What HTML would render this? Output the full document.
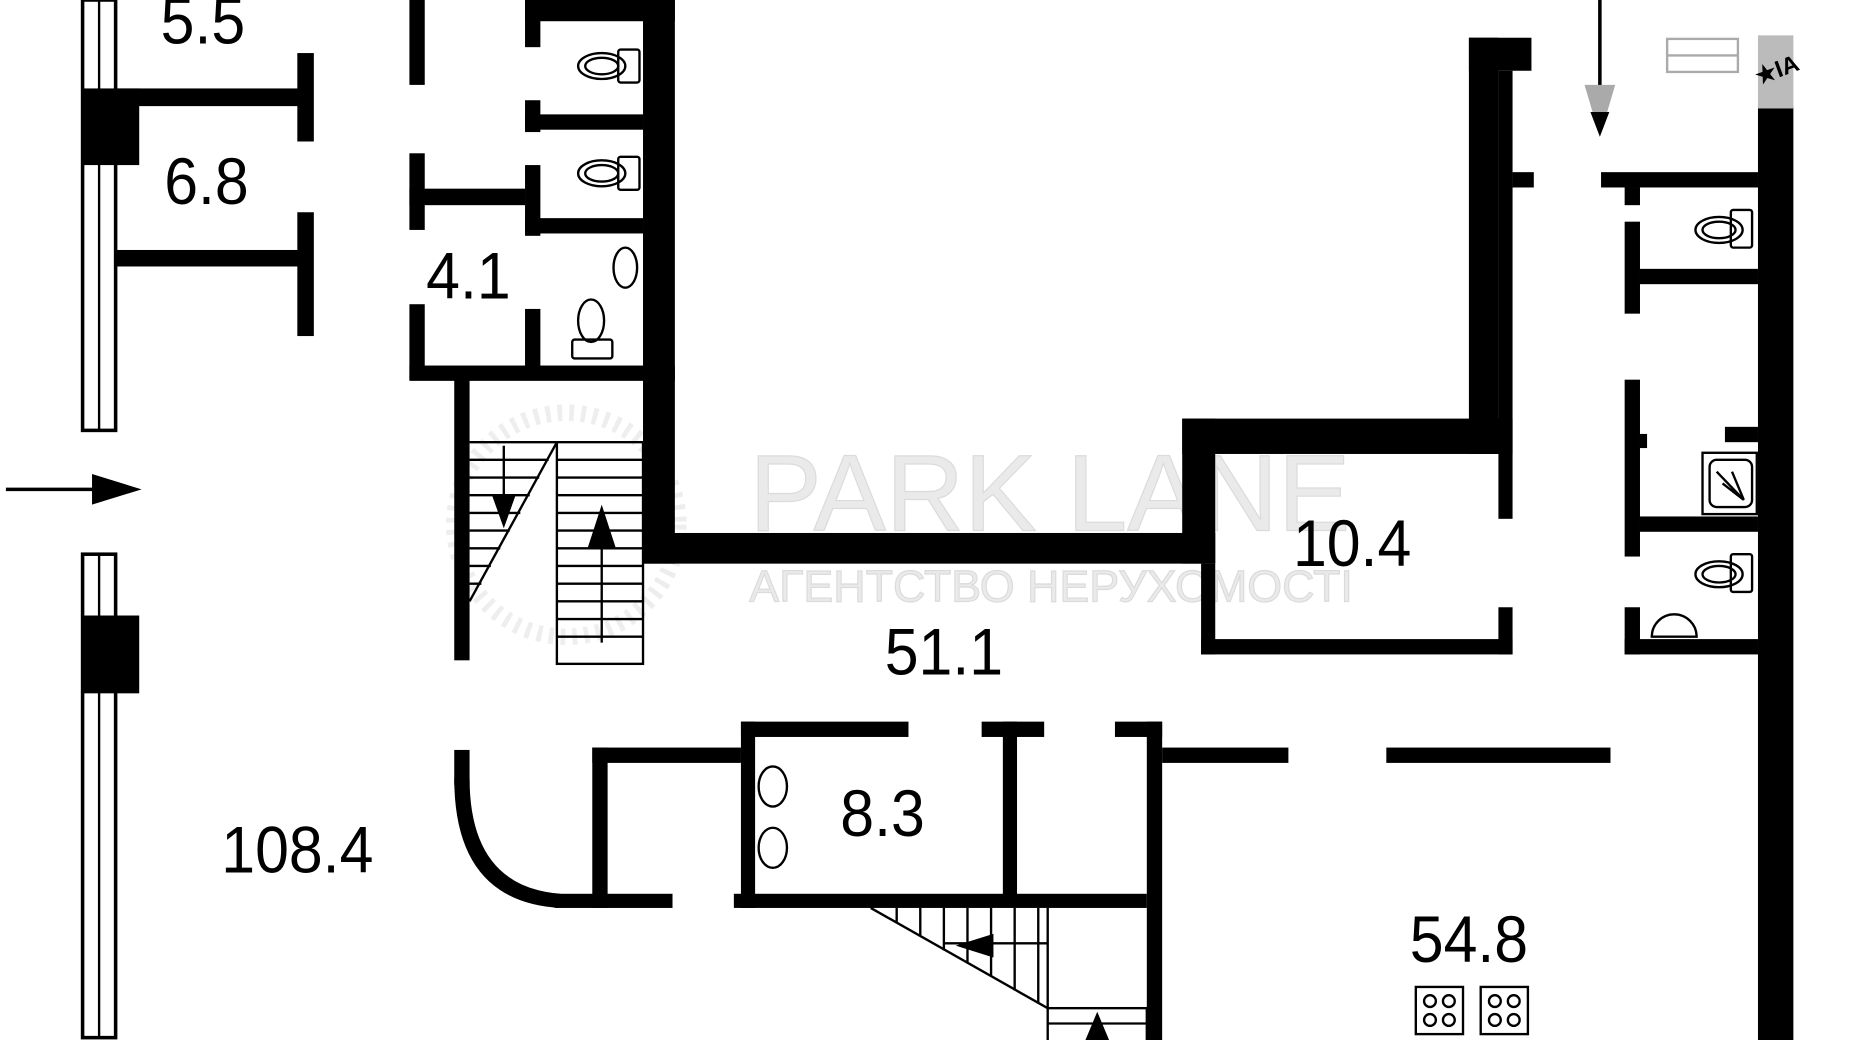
<!DOCTYPE html>
<html><head><meta charset="utf-8"><style>
html,body{margin:0;padding:0;background:#fff;overflow:hidden}
svg{display:block}
text{font-family:"Liberation Sans",sans-serif}
</style></head><body>
<svg width="1850" height="1040" viewBox="0 0 1568 882" preserveAspectRatio="none" xmlns="http://www.w3.org/2000/svg">
<rect width="1568" height="882" fill="#fff"/>
<g opacity="0.9">
<text x="635" y="450" font-family="Liberation Serif,serif" font-size="92" fill="#e8e8e8" stroke="#d8d8d8" stroke-width="1">PARK LANE</text>
<text x="635" y="510" font-size="38" fill="#e8e8e8" stroke="#d8d8d8" stroke-width="1">АГЕНТСТВО НЕРУХОМОСТІ</text>
<circle cx="480" cy="445" r="95" fill="none" stroke="#ececec" stroke-width="14" stroke-dasharray="4 6"/>
</g>
<g fill="#000">
<rect x="70" y="0" width="28" height="365" fill="#fff" stroke="#000" stroke-width="3"/>
<line x1="84" y1="0" x2="84" y2="365" stroke="#000" stroke-width="2"/>
<rect x="70" y="75" width="48" height="65"/>
<rect x="70" y="470" width="28" height="410" fill="#fff" stroke="#000" stroke-width="3"/>
<line x1="84" y1="470" x2="84" y2="880" stroke="#000" stroke-width="2"/>
<rect x="70" y="522" width="48" height="66"/>
<line x1="5" y1="415" x2="85" y2="415" stroke="#000" stroke-width="3"/>
<polygon points="78,402 120,415 78,428"/>
<rect x="98" y="75" width="162" height="15"/>
<rect x="252" y="45" width="14" height="75"/>
<rect x="98" y="212" width="162" height="14"/>
<rect x="252" y="180" width="14" height="105"/>
<rect x="347" y="0" width="13" height="72"/>
<rect x="347" y="130" width="13" height="65"/>
<rect x="347" y="160" width="98" height="14"/>
<rect x="347" y="258" width="13" height="64"/>
<rect x="347" y="310" width="225" height="13"/>
<rect x="445" y="0" width="127" height="18"/>
<rect x="445" y="0" width="13" height="40"/>
<rect x="445" y="85" width="13" height="27"/>
<rect x="445" y="97" width="100" height="13"/>
<rect x="445" y="140" width="13" height="60"/>
<rect x="445" y="185" width="100" height="13"/>
<rect x="445" y="262" width="13" height="50"/>
<rect x="545" y="0" width="27" height="478"/>
<rect x="385" y="322" width="13" height="238"/>
<g stroke="#000" stroke-width="2" fill="none">
<rect x="472" y="375" width="73" height="188"/>
<line x1="398" y1="510" x2="472" y2="375"/>
<line x1="398" y1="375" x2="472" y2="375"/>
<path d="M398 390H465M398 405H457M398 420H449M398 435H441M398 450H432M398 465H424M398 480H416M398 495H408M472 390H545M472 405H545M472 420H545M472 435H545M472 450H545M472 465H545M472 480H545M472 495H545M472 510H545M472 525H545M472 540H545"/>
<line x1="427" y1="378" x2="427" y2="430"/>
<line x1="510" y1="545" x2="510" y2="460"/>
</g>
<polygon points="417,420 437,420 427,448"/>
<polygon points="498,465 522,465 510,428"/>
<rect x="545" y="452" width="485" height="26"/>
<rect x="1002" y="355" width="280" height="30"/>
<rect x="1002" y="355" width="28" height="123"/>
<rect x="1245" y="32" width="25" height="353"/>
<rect x="1245" y="32" width="53" height="28"/>
<rect x="1270" y="60" width="12" height="380"/>
<rect x="1282" y="146" width="18" height="13"/>
<rect x="1270" y="515" width="12" height="40"/>
<rect x="1018" y="478" width="12" height="77"/>
<rect x="1018" y="542" width="264" height="13"/>
<rect x="1490" y="90" width="30" height="792"/>
<rect x="1490" y="30" width="30" height="62" fill="#bbb"/>
<rect x="1357" y="146" width="133" height="13"/>
<rect x="1377" y="159" width="13" height="15"/>
<rect x="1377" y="188" width="13" height="78"/>
<rect x="1390" y="228" width="100" height="13"/>
<rect x="1377" y="322" width="13" height="150"/>
<rect x="1390" y="368" width="6" height="12"/>
<rect x="1462" y="362" width="28" height="13"/>
<rect x="1390" y="438" width="100" height="13"/>
<rect x="1377" y="515" width="13" height="40"/>
<rect x="1377" y="542" width="113" height="13"/>
<line x1="1356" y1="0" x2="1356" y2="80" stroke="#000" stroke-width="3"/>
<polygon points="1343,72 1369,72 1356,116" fill="#aaa"/>
<polygon points="1348,95 1364,95 1356,116"/>
<rect x="1413" y="33" width="60" height="28" fill="none" stroke="#aaa" stroke-width="2"/>
<line x1="1413" y1="47" x2="1473" y2="47" stroke="#aaa" stroke-width="2"/>
<text x="1487" y="68" font-size="20" font-weight="bold" transform="rotate(-20 1500 60)">★IA</text>
<rect x="628" y="612" width="142" height="13"/>
<rect x="832" y="612" width="53" height="13"/>
<rect x="945" y="612" width="40" height="13"/>
<rect x="628" y="612" width="12" height="158"/>
<rect x="850" y="612" width="12" height="148"/>
<rect x="972" y="612" width="13" height="270"/>
<rect x="502" y="634" width="126" height="13"/>
<rect x="985" y="634" width="107" height="13"/>
<rect x="1175" y="634" width="190" height="13"/>
<rect x="502" y="634" width="13" height="136"/>
<rect x="470" y="758" width="100" height="12"/>
<rect x="622" y="758" width="350" height="12"/>
<rect x="385" y="636" width="13" height="30"/>
<path d="M385 660 Q385 765 475 770 L475 758 Q398 752 398 660Z"/>
<g stroke="#000" stroke-width="2" fill="none">
<line x1="738" y1="770" x2="888" y2="855"/>
<path d="M760 770V783M780 770V794M800 770V806M820 770V817M840 770V828M860 770V840M880 770V851M888 770V855M800 800H888"/>
<rect x="888" y="855" width="84" height="30"/>
<path d="M888 868H972"/>
</g>
<polygon points="810,802 842,792 842,812"/>
<polygon points="920,882 940,882 930,858"/>
<g fill="none" stroke="#000" stroke-width="2">
<ellipse cx="510" cy="56" rx="20" ry="11"/><ellipse cx="510" cy="56" rx="14" ry="7"/><rect x="524" y="42" width="18" height="28" rx="2"/>
<ellipse cx="510" cy="147" rx="20" ry="11"/><ellipse cx="510" cy="147" rx="14" ry="7"/><rect x="524" y="133" width="18" height="28" rx="2"/>
<ellipse cx="530" cy="227" rx="10" ry="17"/>
<ellipse cx="501" cy="272" rx="11" ry="18"/><rect x="485" y="288" width="34" height="16" rx="2"/>
<ellipse cx="1457" cy="195" rx="20" ry="11"/><ellipse cx="1457" cy="195" rx="14" ry="7"/><rect x="1467" y="178" width="18" height="32" rx="2"/>
<rect x="1443" y="384" width="46" height="52"/><rect x="1449" y="390" width="36" height="40" rx="6"/>
<path d="M1455 400L1478 424M1460 410L1478 424M1468 400L1478 424"/>
<ellipse cx="1457" cy="487" rx="20" ry="11"/><ellipse cx="1457" cy="487" rx="14" ry="7"/><rect x="1467" y="470" width="18" height="32" rx="2"/>
<path d="M1400 540A19 19 0 0 1 1438 540Z"/>
<ellipse cx="655" cy="667" rx="12" ry="17"/><ellipse cx="655" cy="719" rx="12" ry="17"/>
<rect x="1200" y="837" width="40" height="40"/><rect x="1255" y="837" width="40" height="40"/>
<circle cx="1212" cy="849" r="5"/><circle cx="1228" cy="849" r="5"/><circle cx="1212" cy="865" r="5"/><circle cx="1228" cy="865" r="5"/>
<circle cx="1267" cy="849" r="5"/><circle cx="1283" cy="849" r="5"/><circle cx="1267" cy="865" r="5"/><circle cx="1283" cy="865" r="5"/>
</g>
</g>
<g font-size="56" fill="#000" text-anchor="middle">
<text transform="translate(172,37) scale(0.92,1)">5.5</text>
<text transform="translate(175,173) scale(0.92,1)">6.8</text>
<text transform="translate(397,253) scale(0.92,1)">4.1</text>
<text transform="translate(1146,480) scale(0.92,1)">10.4</text>
<text transform="translate(800,572) scale(0.92,1)">51.1</text>
<text transform="translate(748,709) scale(0.92,1)">8.3</text>
<text transform="translate(252,740) scale(0.92,1)">108.4</text>
<text transform="translate(1245,816) scale(0.92,1)">54.8</text>
</g>
</svg>
</body></html>
